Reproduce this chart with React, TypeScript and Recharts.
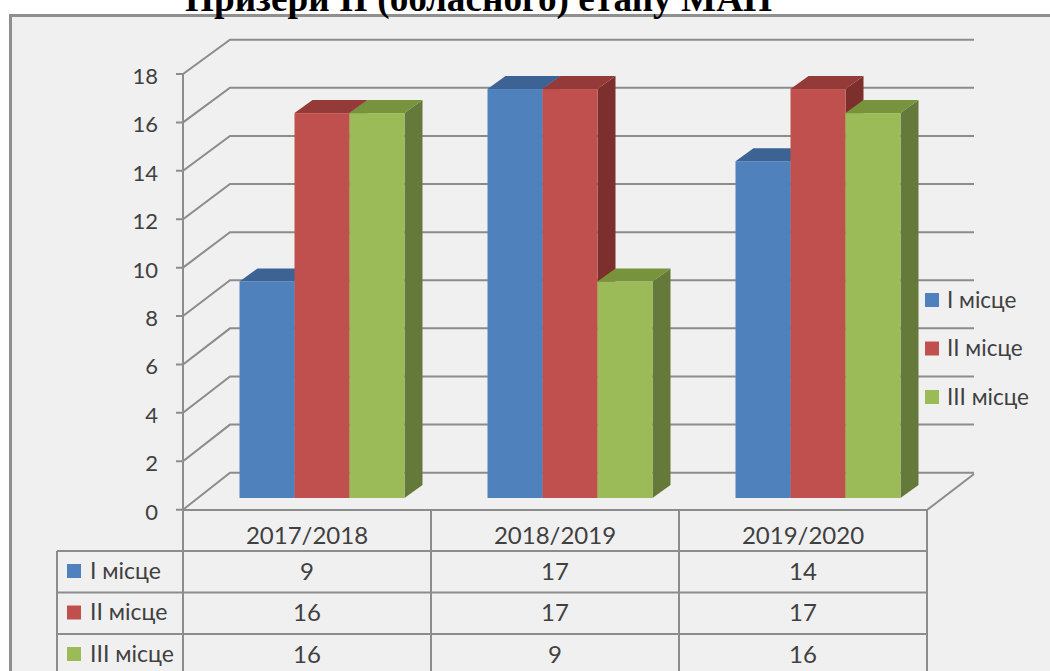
import React from 'react';
import {
  BarChart,
  Bar,
  XAxis,
  YAxis,
  CartesianGrid,
  Legend,
  Customized,
} from 'recharts';

// data
const categories = ['2017/2018', '2018/2019', '2019/2020'];
const seriesNames = ['I місце', 'II місце', 'III місце'];
const firstPlace = [9, 17, 14];
const secondPlace = [16, 17, 17];
const thirdPlace = [16, 9, 16];
const yTicks = [0, 2, 4, 6, 8, 10, 12, 14, 16, 18];

const seriesValues = [firstPlace, secondPlace, thirdPlace];
const seriesKeys = ['first', 'second', 'third'];
const colors = ['#4f81bd', '#c0504d', '#9bbb59'];
const topColors: Record<string, string> = {
  '#4f81bd': '#3c6393',
  '#c0504d': '#943a38',
  '#9bbb59': '#77933c',
};
const sideColors: Record<string, string> = {
  '#4f81bd': '#385d8a',
  '#c0504d': '#7d2f2d',
  '#9bbb59': '#64793a',
};

const rows = categories.map((year, i) => ({
  year,
  first: firstPlace[i],
  second: secondPlace[i],
  third: thirdPlace[i],
}));

// layout
const W = 1050;
const H = 671;
const AXIS_X = 183;
const PLOT_RIGHT = 927;
const BAND = (PLOT_RIGHT - AXIS_X) / categories.length;
const DEPTH_X = 47;
const DEPTH_Y = 35;
const BAR_SHIFT = 14.5;
const BAR_DX = 18;
const BAR_DY = 13;
const TABLE_TOP = 510;
const ROW_TOPS = [551, 592.5, 634];
const LABEL_LEFT = 57;
const LINE = '#8c8c8c';
const TEXT = '#404040';
const FONT = 'Lato, "Open Sans", sans-serif';

const frontY = (y: number) => 8.6 + 1.0062 * y;
const backY = (y: number) => y - 25.3;

const GridLine3D = (props: any) => {
  const { x1, x2, y1 } = props;
  const f = frontY(y1);
  const b = backY(y1);
  return (
    <path
      key={`g-${y1}`}
      d={`M${x1 - 7},${f} L${x1},${f} L${x1 + DEPTH_X},${b} L${x2 + DEPTH_X},${b}`}
      fill="none"
      stroke={LINE}
      strokeWidth={2}
    />
  );
};

const YTick = (props: any) => {
  const { y, payload } = props;
  return (
    <text
      x={AXIS_X - 25}
      y={frontY(y) + 10}
      textAnchor="end"
      fontSize={22}
      fontFamily={FONT}
      fill={TEXT}
    >
      {payload.value}
    </text>
  );
};

const TableColumn = (props: any) => {
  const { x, payload, index } = props;
  const left = x - BAND / 2;
  const right = x + BAND / 2;
  return (
    <g>
      <line x1={left} y1={TABLE_TOP} x2={right} y2={TABLE_TOP} stroke={LINE} strokeWidth={2} />
      <line x1={right} y1={TABLE_TOP} x2={right} y2={H + 5} stroke={LINE} strokeWidth={2} />
      {index === 0 && (
        <line x1={left} y1={TABLE_TOP} x2={left} y2={H + 5} stroke={LINE} strokeWidth={2} />
      )}
      <text x={x} y={TABLE_TOP + 34} textAnchor="middle" fontSize={24} fontFamily={FONT} fill={TEXT}>
        {payload.value}
      </text>
      {ROW_TOPS.map((top, r) => (
        <g key={r}>
          <line x1={left} y1={top} x2={right} y2={top} stroke={LINE} strokeWidth={2} />
          <text x={x} y={top + 28.5} textAnchor="middle" fontSize={24} fontFamily={FONT} fill={TEXT}>
            {seriesValues[r][index]}
          </text>
        </g>
      ))}
      {index === 0 && (
        <g>
          <line x1={LABEL_LEFT} y1={ROW_TOPS[0]} x2={LABEL_LEFT} y2={H + 5} stroke={LINE} strokeWidth={2} />
          {ROW_TOPS.map((top, r) => (
            <g key={r}>
              <line x1={LABEL_LEFT} y1={top} x2={left} y2={top} stroke={LINE} strokeWidth={2} />
              <rect x={67} y={top + 13} width={14} height={14} fill={colors[r]} />
              <text x={90} y={top + 27.5} fontSize={23} fontFamily={FONT} fill={TEXT}>
                {seriesNames[r]}
              </text>
            </g>
          ))}
        </g>
      )}
    </g>
  );
};

const Bar3D = (props: any) => {
  const { x, y, width, height, fill } = props;
  if (width == null || height == null) return null;
  const fx = x + BAR_SHIFT;
  const top = `${fx},${y} ${fx + width},${y} ${fx + width + BAR_DX},${y - BAR_DY} ${fx + BAR_DX},${y - BAR_DY}`;
  const side = `${fx + width},${y} ${fx + width + BAR_DX},${y - BAR_DY} ${fx + width + BAR_DX},${y + height - BAR_DY} ${fx + width},${y + height}`;
  return (
    <g>
      <polygon points={side} fill={sideColors[fill]} />
      <polygon points={top} fill={topColors[fill]} />
      <rect x={fx} y={y} width={width} height={height} fill={fill} />
    </g>
  );
};

const StaticLines = () => (
  <g>
    <line x1={AXIS_X} y1={frontY(65.1)} x2={AXIS_X} y2={TABLE_TOP} stroke={LINE} strokeWidth={2} />
    <line
      x1={PLOT_RIGHT}
      y1={TABLE_TOP}
      x2={PLOT_RIGHT + DEPTH_X}
      y2={TABLE_TOP - DEPTH_Y - 1}
      stroke={LINE}
      strokeWidth={2}
    />
  </g>
);

const LegendContent = (props: any) => {
  const { payload } = props;
  return (
    <svg width={125} height={150} style={{ display: 'block' }}>
      {(payload || []).map((p: any, i: number) => (
        <g key={i}>
          <rect x={0} y={5 + i * 48.5} width={14} height={14} fill={p.color} />
          <text x={22} y={19.5 + i * 48.5} fontSize={22.5} fontFamily={FONT} fill={TEXT}>
            {p.value}
          </text>
        </g>
      ))}
    </svg>
  );
};

export default function App() {
  return (
    <div style={{ position: 'fixed', left: 0, top: 0, width: W, height: H, overflow: 'hidden', background: '#fff' }}>
      <div
        style={{
          position: 'absolute',
          left: 9,
          top: 14,
          width: W + 40,
          height: H + 40,
          border: '3px solid #8f8f8f',
          background: '#f0f0f0',
          boxSizing: 'border-box',
        }}
      />
      <svg width={W} height={30} style={{ position: 'absolute', left: 0, top: 0 }}>
        <text
          x={185}
          y={11}
          fontSize={38}
          fontWeight="bold"
          fontFamily='"Liberation Serif", "DejaVu Serif", serif'
          fill="#000"
          textLength={587}
          lengthAdjust="spacingAndGlyphs"
        >
          Призери ІІ (обласного) етапу МАН
        </text>
      </svg>
      <div style={{ position: 'absolute', left: 0, top: 0 }}>
        <BarChart
          width={W}
          height={H}
          data={rows}
          margin={{ top: 65, right: W - PLOT_RIGHT, bottom: 0, left: 0 }}
          barGap={0}
          barSize={55}
        >
          <CartesianGrid vertical={false} horizontal={GridLine3D} />
          <Customized component={StaticLines} />
          <XAxis
            dataKey="year"
            height={H - 498}
            axisLine={false}
            tickLine={false}
            interval={0}
            tick={TableColumn}
          />
          <YAxis
            width={AXIS_X}
            domain={[0, 18]}
            ticks={yTicks}
            interval={0}
            axisLine={false}
            tickLine={false}
            tick={YTick}
          />
          <Legend
            layout="horizontal"
            verticalAlign="middle"
            align="center"
            wrapperStyle={{ left: 925, top: 288, width: 125 }}
            content={LegendContent}
          />
          {seriesKeys.map((k, i) => (
            <Bar
              key={k}
              dataKey={k}
              name={seriesNames[i]}
              fill={colors[i]}
              shape={Bar3D}
              isAnimationActive={false}
            />
          ))}
        </BarChart>
      </div>
    </div>
  );
}
